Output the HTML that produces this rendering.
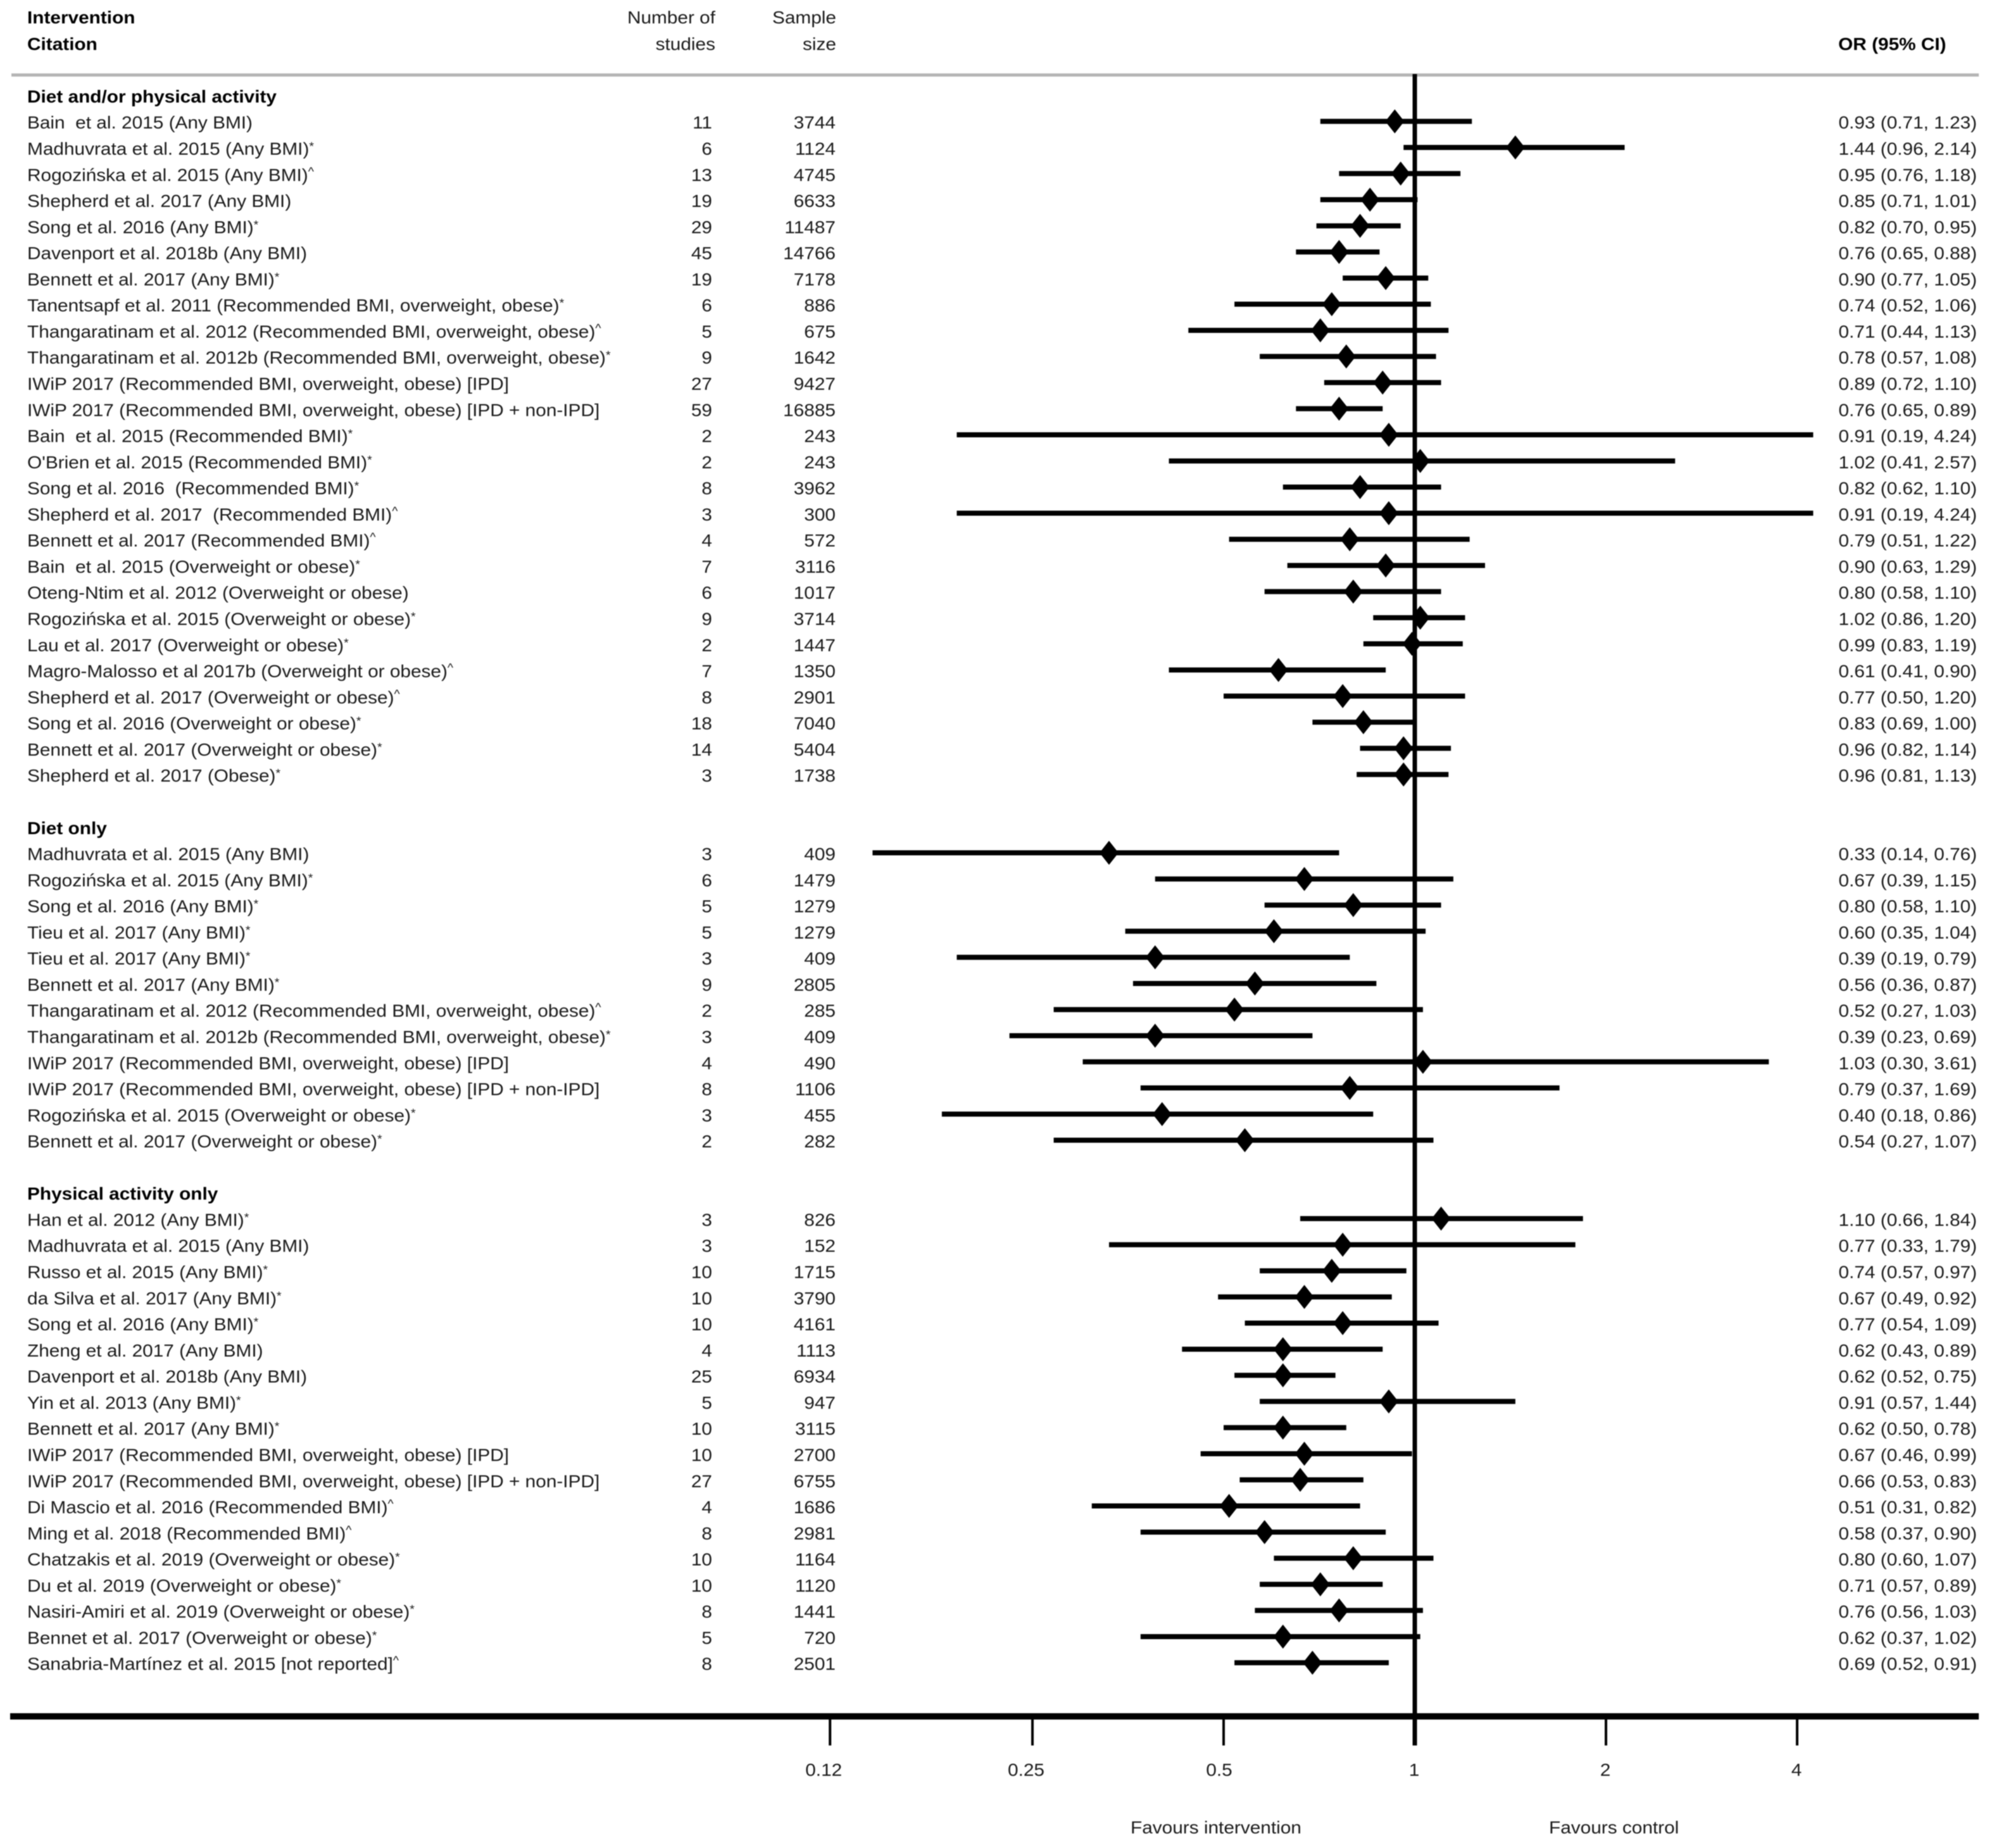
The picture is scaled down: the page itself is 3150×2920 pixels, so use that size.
<!DOCTYPE html>
<html lang="en">
<head>
<meta charset="utf-8">
<title>Forest plot: interventions in pregnancy, OR (95% CI)</title>
<style>
  html, body { margin: 0; padding: 0; background: #fff; width: 3150px; height: 2920px; overflow: hidden; }
  svg { display: block; filter: blur(0.9px); }
  text { font-family: "Liberation Sans", Arial, sans-serif; font-size: 27.5px; fill: #1a1a1a; white-space: pre; }
  text.bold { font-weight: bold; fill: #000; }
</style>
</head>
<body>
<svg id="forest-plot" xmlns="http://www.w3.org/2000/svg" width="3150" height="2920" viewBox="0 0 3150 2920">
  <rect x="0" y="0" width="3150" height="2920" fill="#ffffff"/>
  <text class="bold" transform="translate(43,37) scale(1.084,1)">Intervention</text>
  <text class="bold" transform="translate(43,79) scale(1.084,1)">Citation</text>
  <text text-anchor="end" transform="translate(1130,37) scale(1.084,1)">Number of</text>
  <text text-anchor="end" transform="translate(1130,79) scale(1.084,1)">studies</text>
  <text text-anchor="end" transform="translate(1321,37) scale(1.084,1)">Sample</text>
  <text text-anchor="end" transform="translate(1321,79) scale(1.084,1)">size</text>
  <text class="bold" transform="translate(2904,79) scale(1.084,1)">OR (95% CI)</text>
  <rect x="18" y="116" width="3108" height="5" fill="#b4b4b4"/>
  <rect x="16" y="2707" width="3110" height="10" fill="#000000"/>
  <text transform="translate(1786,2897) scale(1.084,1)">Favours intervention</text>
  <text transform="translate(2447,2897) scale(1.084,1)">Favours control</text>
  <g id="marks"></g>
  <g id="labels"></g>
</svg>
<script>
var groupNames = ["Diet and/or physical activity", "Diet only", "Physical activity only"];
var groupSizes = [26, 12, 18];
var citations = [
  "Bain  et al. 2015 (Any BMI)",
  "Madhuvrata et al. 2015 (Any BMI)*",
  "Rogozińska et al. 2015 (Any BMI)^",
  "Shepherd et al. 2017 (Any BMI)",
  "Song et al. 2016 (Any BMI)*",
  "Davenport et al. 2018b (Any BMI)",
  "Bennett et al. 2017 (Any BMI)*",
  "Tanentsapf et al. 2011 (Recommended BMI, overweight, obese)*",
  "Thangaratinam et al. 2012 (Recommended BMI, overweight, obese)^",
  "Thangaratinam et al. 2012b (Recommended BMI, overweight, obese)*",
  "IWiP 2017 (Recommended BMI, overweight, obese) [IPD]",
  "IWiP 2017 (Recommended BMI, overweight, obese) [IPD + non-IPD]",
  "Bain  et al. 2015 (Recommended BMI)*",
  "O'Brien et al. 2015 (Recommended BMI)*",
  "Song et al. 2016  (Recommended BMI)*",
  "Shepherd et al. 2017  (Recommended BMI)^",
  "Bennett et al. 2017 (Recommended BMI)^",
  "Bain  et al. 2015 (Overweight or obese)*",
  "Oteng-Ntim et al. 2012 (Overweight or obese)",
  "Rogozińska et al. 2015 (Overweight or obese)*",
  "Lau et al. 2017 (Overweight or obese)*",
  "Magro-Malosso et al 2017b (Overweight or obese)^",
  "Shepherd et al. 2017 (Overweight or obese)^",
  "Song et al. 2016 (Overweight or obese)*",
  "Bennett et al. 2017 (Overweight or obese)*",
  "Shepherd et al. 2017 (Obese)*",
  "Madhuvrata et al. 2015 (Any BMI)",
  "Rogozińska et al. 2015 (Any BMI)*",
  "Song et al. 2016 (Any BMI)*",
  "Tieu et al. 2017 (Any BMI)*",
  "Tieu et al. 2017 (Any BMI)*",
  "Bennett et al. 2017 (Any BMI)*",
  "Thangaratinam et al. 2012 (Recommended BMI, overweight, obese)^",
  "Thangaratinam et al. 2012b (Recommended BMI, overweight, obese)*",
  "IWiP 2017 (Recommended BMI, overweight, obese) [IPD]",
  "IWiP 2017 (Recommended BMI, overweight, obese) [IPD + non-IPD]",
  "Rogozińska et al. 2015 (Overweight or obese)*",
  "Bennett et al. 2017 (Overweight or obese)*",
  "Han et al. 2012 (Any BMI)*",
  "Madhuvrata et al. 2015 (Any BMI)",
  "Russo et al. 2015 (Any BMI)*",
  "da Silva et al. 2017 (Any BMI)*",
  "Song et al. 2016 (Any BMI)*",
  "Zheng et al. 2017 (Any BMI)",
  "Davenport et al. 2018b (Any BMI)",
  "Yin et al. 2013 (Any BMI)*",
  "Bennett et al. 2017 (Any BMI)*",
  "IWiP 2017 (Recommended BMI, overweight, obese) [IPD]",
  "IWiP 2017 (Recommended BMI, overweight, obese) [IPD + non-IPD]",
  "Di Mascio et al. 2016 (Recommended BMI)^",
  "Ming et al. 2018 (Recommended BMI)^",
  "Chatzakis et al. 2019 (Overweight or obese)*",
  "Du et al. 2019 (Overweight or obese)*",
  "Nasiri-Amiri et al. 2019 (Overweight or obese)*",
  "Bennet et al. 2017 (Overweight or obese)*",
  "Sanabria-Martínez et al. 2015 [not reported]^"
];
var studyCounts = [11,6,13,19,29,45,19,6,5,9,27,59,2,2,8,3,4,7,6,9,2,7,8,18,14,3,
  3,6,5,5,3,9,2,3,4,8,3,2,
  3,3,10,10,10,4,25,5,10,10,27,4,8,10,10,8,5,8];
var sampleSizes = [3744,1124,4745,6633,11487,14766,7178,886,675,1642,9427,16885,243,243,3962,300,572,3116,1017,3714,1447,1350,2901,7040,5404,1738,
  409,1479,1279,1279,409,2805,285,409,490,1106,455,282,
  826,152,1715,3790,4161,1113,6934,947,3115,2700,6755,1686,2981,1164,1120,1441,720,2501];
var oddsRatios = [0.93,1.44,0.95,0.85,0.82,0.76,0.90,0.74,0.71,0.78,0.89,0.76,0.91,1.02,0.82,0.91,0.79,0.90,0.80,1.02,0.99,0.61,0.77,0.83,0.96,0.96,
  0.33,0.67,0.80,0.60,0.39,0.56,0.52,0.39,1.03,0.79,0.40,0.54,
  1.10,0.77,0.74,0.67,0.77,0.62,0.62,0.91,0.62,0.67,0.66,0.51,0.58,0.80,0.71,0.76,0.62,0.69];
var ciLower = [0.71,0.96,0.76,0.71,0.70,0.65,0.77,0.52,0.44,0.57,0.72,0.65,0.19,0.41,0.62,0.19,0.51,0.63,0.58,0.86,0.83,0.41,0.50,0.69,0.82,0.81,
  0.14,0.39,0.58,0.35,0.19,0.36,0.27,0.23,0.30,0.37,0.18,0.27,
  0.66,0.33,0.57,0.49,0.54,0.43,0.52,0.57,0.50,0.46,0.53,0.31,0.37,0.60,0.57,0.56,0.37,0.52];
var ciUpper = [1.23,2.14,1.18,1.01,0.95,0.88,1.05,1.06,1.13,1.08,1.10,0.89,4.24,2.57,1.10,4.24,1.22,1.29,1.10,1.20,1.19,0.90,1.20,1.00,1.14,1.13,
  0.76,1.15,1.10,1.04,0.79,0.87,1.03,0.69,3.61,1.69,0.86,1.07,
  1.84,1.79,0.97,0.92,1.09,0.89,0.75,1.44,0.78,0.99,0.83,0.82,0.90,1.07,0.89,1.03,1.02,0.91];
var tickValues = [0.12, 0.25, 0.5, 1, 2, 4];
var tickLabels = ["0.12", "0.25", "0.5", "1", "2", "4"];

var SVG_NS = "http://www.w3.org/2000/svg";
var marks = document.getElementById("marks");
var labels = document.getElementById("labels");
var TEXT_STRETCH = 1.084;

function xScale(v) { return 2235 + 302 * (Math.log(v) / Math.LN2); }
function yRow(r) { return 191.7 + 41.28 * r; }

function addShape(parent, tag, attrs) {
  var el = document.createElementNS(SVG_NS, tag);
  for (var k in attrs) { el.setAttribute(k, attrs[k]); }
  parent.appendChild(el);
  return el;
}
function addText(x, y, str, anchor, cls) {
  var el = document.createElementNS(SVG_NS, "text");
  el.setAttribute("transform", "translate(" + x + "," + y + ") scale(" + TEXT_STRETCH + ",1)");
  el.setAttribute("text-anchor", anchor);
  if (cls) { el.setAttribute("class", cls); }
  var last = str.charAt(str.length - 1);
  if (last === "*" || last === "^") {
    el.appendChild(document.createTextNode(str.slice(0, -1)));
    var sup = document.createElementNS(SVG_NS, "tspan");
    sup.setAttribute("font-size", "18");
    sup.setAttribute("dy", last === "*" ? "-7" : "-9");
    sup.textContent = last;
    el.appendChild(sup);
  } else {
    el.textContent = str;
  }
  labels.appendChild(el);
  return el;
}

var tIdx, tickX, tickMark, tickText;
for (tIdx = 0; tIdx < tickValues.length; tIdx++) {
  tickX = xScale(tickValues[tIdx]);
  tickMark = addShape(marks, "line", { x1: tickX, x2: tickX, y1: 2712, y2: 2758, stroke: "#000", "stroke-width": 4 });
  
  
  tickText = addText(tickX - 1 - 3 * (tickLabels[tIdx].length - 1), 2806, tickLabels[tIdx], "middle");
  
  
}

var noEffectX = xScale(1);
var noEffect = addShape(marks, "line", { x1: noEffectX, x2: noEffectX, y1: 117, y2: 2758, stroke: "#000", "stroke-width": 7 });



var row = -1, study = 0;
for (var g = 0; g < groupNames.length; g++) {
  var header = addText(43, yRow(row) + 11.5, groupNames[g], "start", "bold");
  
  
  row += 1;
  for (var s = 0; s < groupSizes[g]; s++) {
    var y = yRow(row);
    var base = y + 11.5;

    var citation = addText(43, base, citations[study], "start");
    
    

    var countText = addText(1125, base, String(studyCounts[study]), "end");
    
    

    var sampleText = addText(1320, base, String(sampleSizes[study]), "end");
    
    

    var orText = addText(3123, base, oddsRatios[study].toFixed(2) + " (" + ciLower[study].toFixed(2) + ", " + ciUpper[study].toFixed(2) + ")", "end");
    
    

    var ciLine = addShape(marks, "line", { x1: xScale(ciLower[study]), x2: xScale(ciUpper[study]), y1: y, y2: y, stroke: "#000", "stroke-width": 8 });
    
    

    var cx = xScale(oddsRatios[study]);
    var diamondPoints = [(cx - 15) + "," + y, cx + "," + (y - 19), (cx + 15) + "," + y, cx + "," + (y + 19)].join(" ");
    var diamond = addShape(marks, "polygon", { points: diamondPoints, fill: "#000" });
    
    

    row += 1;
    study += 1;
  }
  row += 1;
}
</script>
</body>
</html>
